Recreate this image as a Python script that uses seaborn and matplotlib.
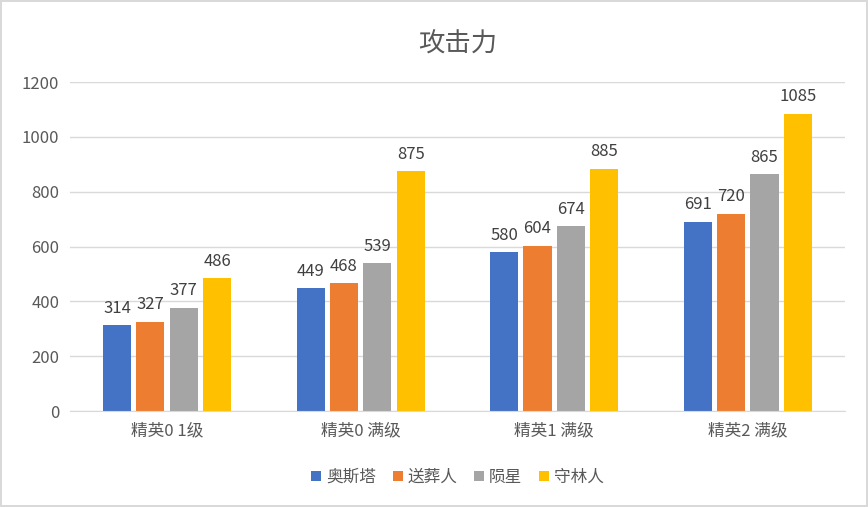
import matplotlib
matplotlib.use("Agg")
import matplotlib.pyplot as plt
import seaborn as sns
import pandas as pd

plt.rcParams["font.family"] = "Noto Sans CJK SC"

categories = ["精英0 1级", "精英0 满级", "精英1 满级", "精英2 满级"]
series = ["奥斯塔", "送葬人", "陨星", "守林人"]
v_aosita = [314, 449, 580, 691]
v_songzang = [327, 468, 604, 720]
v_yunxing = [377, 539, 674, 865]
v_shoulin = [486, 875, 885, 1085]
colors = ["#4472C4", "#ED7D31", "#A5A5A5", "#FFC000"]

rows = []
for s, vals in zip(series, [v_aosita, v_songzang, v_yunxing, v_shoulin]):
    for c, v in zip(categories, vals):
        rows.append({"cat": c, "series": s, "val": v})
df = pd.DataFrame(rows)

fig = plt.figure(figsize=(8.68, 5.07), dpi=100)
fig.patch.set_edgecolor("#D9D9D9")
fig.patch.set_linewidth(1.5)
ax = fig.add_axes([0.081, 0.189, 0.892, 0.649])
sns.barplot(data=df, x="cat", y="val", hue="series", palette=colors,
            width=0.69, gap=0.16, ax=ax, saturation=1, legend=True)
for cont in ax.containers:
    ax.bar_label(cont, padding=6, fontsize=12, color="#404040")
ax.set_ylim(0, 1200)
ax.set_yticks(range(0, 1201, 200))
ax.yaxis.grid(True, color="#D9D9D9", linewidth=1)
ax.set_axisbelow(True)
for sp in ["top", "right", "left"]:
    ax.spines[sp].set_visible(False)
ax.spines["bottom"].set_color("#D9D9D9")
ax.tick_params(axis="both", length=0, labelsize=12, colors="#595959", pad=8)
ax.set_xlabel("")
ax.set_ylabel("")
ax.set_title("攻击力", fontsize=19, color="#595959", pad=22)
ax.legend(loc="upper center", bbox_to_anchor=(0.5, -0.13), ncol=4, frameon=False,
          fontsize=12, handlelength=0.6, handleheight=0.6, columnspacing=1.0,
          handletextpad=0.3, labelcolor="#595959")
fig.savefig("out.png", dpi=100)
